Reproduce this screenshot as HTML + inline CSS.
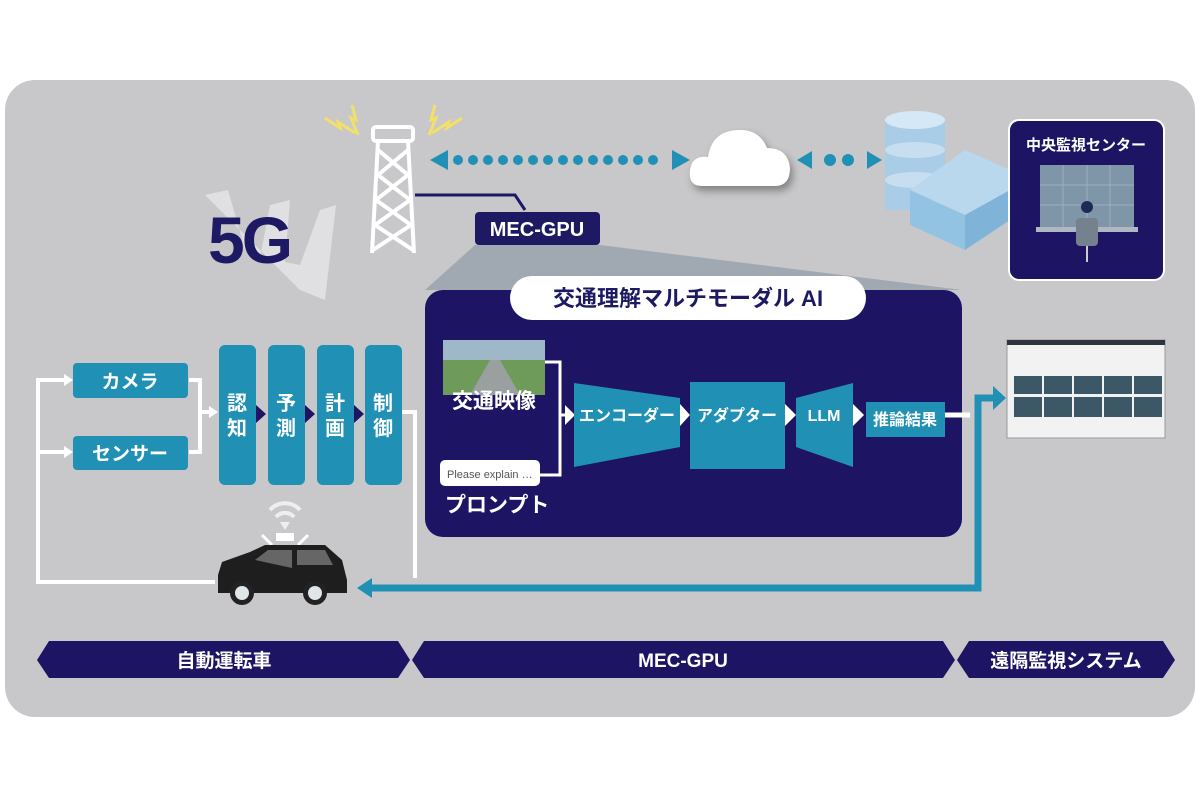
<!DOCTYPE html>
<html><head><meta charset="utf-8"><style>
html,body{margin:0;padding:0;background:#fff;width:1200px;height:800px;overflow:hidden}
svg text{font-family:"Liberation Sans","Noto Sans CJK JP",sans-serif;font-weight:bold}
</style></head><body>
<svg width="1200" height="800" viewBox="0 0 1200 800" xmlns="http://www.w3.org/2000/svg">
<rect x="5" y="80" width="1190" height="637" rx="30" fill="#c8c8ca"/>
<polygon points="475,245 600,245 962,290 425,290" fill="#a0a9b1"/>
<g fill="#e2e2e6">
<path d="M205,195 L228,190 L245,250 L260,258 L270,205 L290,200 L285,262 L300,265 L320,210 L336,205 L325,300 L300,290 Z" opacity="0.9"/>
</g>
<text x="208" y="263" font-size="66" fill="#1d1a63" letter-spacing="-3">5G</text>
<g stroke="#fff" stroke-width="4" fill="none">
<rect x="373" y="127" width="40" height="14" rx="3"/>
<line x1="378" y1="141" x2="372" y2="253"/><line x1="408" y1="141" x2="414" y2="253"/>
<path d="M378,150 L408,175 L376,200 L411,225 L373,250 M408,150 L378,175 L410,200 L375,225 L413,250"/>
</g>
<g stroke="#f2e06a" stroke-width="3" fill="none">
<path d="M325,118 L340,128 L338,122 L355,133"/><path d="M352,105 L356,120 L351,118 L358,135"/>
<path d="M462,118 L447,128 L449,122 L432,133"/><path d="M435,105 L431,120 L436,118 L429,135"/>
</g>
<path d="M415,195 L515,195 L525,210" stroke="#1d1a63" stroke-width="3" fill="none"/>
<rect x="475" y="212" width="125" height="33" rx="4" fill="#1d1a63"/>
<text x="537" y="236" font-size="20" fill="#fff" text-anchor="middle">MEC-GPU</text>
<g fill="#2190b5">
<polygon points="430,160 448,150 448,170"/><polygon points="690,160 672,150 672,170"/>
<circle cx="458" cy="160" r="5"/><circle cx="473" cy="160" r="5"/><circle cx="488" cy="160" r="5"/><circle cx="503" cy="160" r="5"/><circle cx="518" cy="160" r="5"/><circle cx="533" cy="160" r="5"/><circle cx="548" cy="160" r="5"/><circle cx="563" cy="160" r="5"/><circle cx="578" cy="160" r="5"/><circle cx="593" cy="160" r="5"/><circle cx="608" cy="160" r="5"/><circle cx="623" cy="160" r="5"/><circle cx="638" cy="160" r="5"/><circle cx="653" cy="160" r="5"/>
<polygon points="797,160 812,151 812,169"/><polygon points="882,160 867,151 867,169"/>
<circle cx="830" cy="160" r="6"/><circle cx="848" cy="160" r="6"/>
</g>
<g fill="#fff" style="filter:drop-shadow(3px 5px 4px rgba(0,0,0,0.35))">
<path d="M702,186 Q688,186 690,170 Q692,155 708,157 Q712,130 740,130 Q760,130 767,148 Q788,148 790,168 Q790,186 775,186 Z"/>
</g>
<g>
<rect x="885" y="120" width="60" height="90" fill="#a9cde6"/>
<ellipse cx="915" cy="120" rx="30" ry="9" fill="#d5e8f5"/>
<ellipse cx="915" cy="150" rx="30" ry="8" fill="#c6def0"/>
<ellipse cx="915" cy="180" rx="30" ry="8" fill="#c6def0"/>
<polygon points="910,190 965,150 1010,170 1010,220 965,250 910,225" fill="#b9d8ee"/>
<polygon points="910,190 965,215 965,250 910,225" fill="#93c3e3"/>
<polygon points="965,215 1010,190 1010,220 965,250" fill="#7fb3d8"/>
</g>
<rect x="1009" y="120" width="155" height="160" rx="10" fill="#1d1464" stroke="#fff" stroke-width="2"/>
<text x="1086" y="150" font-size="15" fill="#fff" text-anchor="middle">中央監視センター</text>
<rect x="1040" y="165" width="94" height="62" fill="#7f95a8"/>
<g stroke="#9db0c0" stroke-width="1"><line x1="1040" y1="185" x2="1134" y2="185"/><line x1="1040" y1="205" x2="1134" y2="205"/><line x1="1063" y1="165" x2="1063" y2="227"/><line x1="1087" y1="165" x2="1087" y2="227"/><line x1="1110" y1="165" x2="1110" y2="227"/></g>
<rect x="1036" y="227" width="102" height="5" fill="#aeb8c2"/>
<circle cx="1087" cy="207" r="6" fill="#1d2a55"/>
<rect x="1076" y="218" width="22" height="28" rx="4" fill="#75818e"/>
<line x1="1087" y1="246" x2="1087" y2="262" stroke="#ccc" stroke-width="2"/>
<rect x="1007" y="340" width="158" height="98" fill="#f2f2f2" stroke="#999" stroke-width="1"/>
<rect x="1007" y="340" width="158" height="5" fill="#2e3440"/>
<g fill="#3c5866">
<rect x="1014" y="376" width="28" height="18"/><rect x="1044" y="376" width="28" height="18"/><rect x="1074" y="376" width="28" height="18"/><rect x="1104" y="376" width="28" height="18"/><rect x="1134" y="376" width="28" height="18"/>
<rect x="1014" y="397" width="28" height="20"/><rect x="1044" y="397" width="28" height="20"/><rect x="1074" y="397" width="28" height="20"/><rect x="1104" y="397" width="28" height="20"/><rect x="1134" y="397" width="28" height="20"/>
</g>
<rect x="425" y="290" width="537" height="247" rx="18" fill="#1d1464"/>
<rect x="510" y="276" width="356" height="44" rx="22" fill="#fff"/>
<text x="688" y="306" font-size="22" fill="#1d1a63" text-anchor="middle">交通理解マルチモーダル AI</text>
<rect x="443" y="340" width="102" height="55" fill="#6e9a5a"/>
<rect x="443" y="340" width="102" height="20" fill="#9fb8c8"/>
<polygon points="470,395 520,395 500,360 490,360" fill="#9aa0a0"/>
<text x="494" y="408" font-size="21" fill="#fff" text-anchor="middle">交通映像</text>
<rect x="440" y="460" width="100" height="26" rx="5" fill="#fff"/>
<text x="447" y="478" font-size="11" fill="#555" style="font-weight:normal">Please explain …</text>
<text x="445" y="512" font-size="21" fill="#fff">プロンプト</text>
<path d="M545,362 L560,362 L560,475 L540,475 M560,415 L565,415" stroke="#fff" stroke-width="3" fill="none"/>
<polygon points="565,405 575,415 565,425" fill="#fff"/>
<polygon points="574,383 680,398 680,447 574,467" fill="#2190b5"/>
<text x="627" y="421" font-size="16" fill="#fff" text-anchor="middle">エンコーダー</text>
<polygon points="680,404 690,415 680,426" fill="#fff"/>
<rect x="690" y="382" width="95" height="87" fill="#2190b5"/>
<text x="737" y="421" font-size="16" fill="#fff" text-anchor="middle">アダプター</text>
<polygon points="785,404 796,415 785,426" fill="#fff"/>
<polygon points="796,398 853,383 853,467 796,447" fill="#2190b5"/>
<text x="824" y="421" font-size="16" fill="#fff" text-anchor="middle">LLM</text>
<polygon points="853,404 864,415 853,426" fill="#fff"/>
<rect x="866" y="402" width="79" height="35" fill="#2190b5"/>
<text x="905" y="421" font-size="16" fill="#fff" text-anchor="middle" dominant-baseline="middle">推論結果</text>
<line x1="945" y1="415" x2="970" y2="415" stroke="#fff" stroke-width="5"/>
<path d="M370,588 L978,588 L978,398 L993,398" stroke="#2190b5" stroke-width="7" fill="none"/>
<polygon points="993,386 1006,398 993,410" fill="#2190b5"/>
<polygon points="357,588 372,578 372,598" fill="#2190b5"/>
<path d="M402,412 L415,412 L415,578" stroke="#fff" stroke-width="4" fill="none"/>
<path d="M215,582 L38,582 L38,380 L65,380 M38,452 L65,452" stroke="#fff" stroke-width="4" fill="none"/>
<polygon points="64,374 73,380 64,386" fill="#fff"/><polygon points="64,446 73,452 64,458" fill="#fff"/>
<path d="M189,380 L200,380 L200,452 L189,452 M200,412 L210,412" stroke="#fff" stroke-width="4" fill="none"/>
<polygon points="209,406 218,412 209,418" fill="#fff"/>
<rect x="73" y="363" width="115" height="35" rx="4" fill="#2190b5"/>
<text x="130" y="388" font-size="19" fill="#fff" text-anchor="middle">カメラ</text>
<rect x="73" y="436" width="115" height="34" rx="4" fill="#2190b5"/>
<text x="130" y="460" font-size="19" fill="#fff" text-anchor="middle">センサー</text>
<g fill="#2190b5">
<rect x="219" y="345" width="37" height="140" rx="6"/><rect x="268" y="345" width="37" height="140" rx="6"/><rect x="317" y="345" width="37" height="140" rx="6"/><rect x="365" y="345" width="37" height="140" rx="6"/>
</g>
<g fill="#1d1464"><polygon points="256,405 266,414 256,423"/><polygon points="305,405 315,414 305,423"/><polygon points="354,405 364,414 354,423"/></g>
<g font-size="20" fill="#fff" text-anchor="middle">
<text x="237" y="410">認</text><text x="237" y="435">知</text>
<text x="286" y="410">予</text><text x="286" y="435">測</text>
<text x="335" y="410">計</text><text x="335" y="435">画</text>
<text x="383" y="410">制</text><text x="383" y="435">御</text>
</g>
<g>
<path d="M270,510 A20,20 0 0 1 300,510" stroke="#eee" stroke-width="4" fill="none"/>
<path d="M276,517 A12,12 0 0 1 294,517" stroke="#eee" stroke-width="4" fill="none"/>
<polygon points="280,522 290,522 285,530" fill="#eee"/>
<path d="M262,535 L272,545 M308,535 L298,545" stroke="#fff" stroke-width="3"/>
<rect x="276" y="533" width="18" height="8" fill="#fff"/>
<path d="M218,575 L222,562 L250,552 L265,545 L325,545 L342,560 L347,580 L347,593 L218,593 Z" fill="#1e1e1e"/>
<polygon points="255,560 268,550 292,550 292,568" fill="#666"/>
<polygon points="297,550 325,550 333,565 297,565" fill="#666"/>
<circle cx="242" cy="593" r="12" fill="#222"/><circle cx="242" cy="593" r="7" fill="#dfe6ea"/>
<circle cx="315" cy="593" r="12" fill="#222"/><circle cx="315" cy="593" r="7" fill="#dfe6ea"/>
</g>
<g fill="#1d1464">
<polygon points="37,660 49,641 398,641 410,660 398,678 49,678"/>
<polygon points="412,660 424,641 943,641 955,660 943,678 424,678"/>
<polygon points="957,660 969,641 1163,641 1175,660 1163,678 969,678"/>
</g>
<g font-size="19" fill="#fff" text-anchor="middle">
<text x="224" y="667">自動運転車</text>
<text x="683" y="667">MEC-GPU</text>
<text x="1066" y="667">遠隔監視システム</text>
</g>
</svg>
</body></html>
